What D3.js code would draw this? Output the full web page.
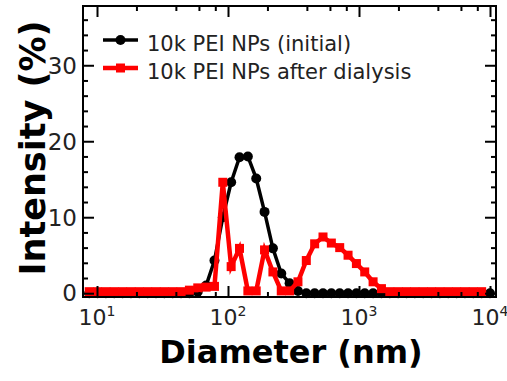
<!DOCTYPE html>
<html>
<head>
<meta charset="utf-8">
<script src="https://cdn.jsdelivr.net/npm/d3@7"></script>
<style>
  html, body { margin: 0; padding: 0; background: #fff; }
  svg { display: block; }
  text { font-family: "DejaVu Sans", Verdana, sans-serif; }
</style>
</head>
<body>
<svg id="chart" width="507" height="381"></svg>
<script>
// Size bins (nm) of the DLS distribution
const diameters = [8.721, 10.1, 11.7, 13.54, 15.69, 18.17, 21.04, 24.36, 28.21, 32.67,
  37.84, 43.82, 50.75, 58.77, 68.06, 78.82, 91.28, 105.7, 122.4, 141.8,
  164.2, 190.1, 220.2, 255.0, 295.3, 342.0, 396.1, 458.7, 531.2, 615.1,
  712.4, 825.0, 955.4, 1106, 1281, 1484, 1718, 1990, 2305, 2669,
  3091, 3580, 4145, 4801, 5560, 6439, 7456, 8635, 10000];

// Intensity (%) of the initial 10k PEI nanoparticles
const initialIntensity = [0, 0, 0, 0, 0, 0, 0, 0, 0, 0,
  0, 0, 0, 0.2, 1.0, 4.3, 10.0, 14.6, 17.9, 18.0,
  15.1, 10.7, 5.9, 2.6, 1.3, 0.3, 0, 0, 0, 0,
  0, 0, 0, 0, 0, 0, 0, 0, 0, 0,
  0, 0, 0, 0, 0, 0, 0, 0, 0];

// Intensity (%) after dialysis (last bin not measured)
const dialysisIntensity = [0.2, 0.2, 0.2, 0.2, 0.2, 0.2, 0.2, 0.2, 0.2, 0.2,
  0.2, 0.2, 0.4, 0.7, 0.8, 0.9, 14.6, 3.5, 5.9, 0.3,
  0.3, 5.7, 2.8, 0.3, 0.3, 1.5, 4.3, 6.5, 7.4, 6.6,
  6.0, 5.0, 3.9, 2.8, 1.5, 0.6, 0.2, 0.2, 0.2, 0.2,
  0.2, 0.2, 0.2, 0.2, 0.2, 0.2, 0.2, 0.2];

const seriesNames = ["10k PEI NPs (initial)", "10k PEI NPs after dialysis"];
const seriesColors = ["#000000", "#ff0000"];

const xMajorTicks = [10, 100, 1000, 10000];
const xMajorExponents = ["1", "2", "3", "4"];
const xMinorTicks = [20, 40, 60, 80, 200, 400, 600, 800, 2000, 4000, 6000, 8000];
const yMajorTicks = [0, 10, 20, 30];
const yMinorTicks = [2, 4, 6, 8, 12, 14, 16, 18, 22, 24, 26, 28, 32, 34, 36];

const xTitle = "Diameter (nm)";
const yTitle = "Intensity (%)";

const svg = d3.select("#chart");
const plot = { left: 83, right: 496, top: 6, bottom: 297 };

// log axis: 131 px per decade, 10^1 at x=97
const x = d3.scaleLog()
  .domain([Math.pow(10, 1 - 14 / 131), Math.pow(10, 4 + 6 / 131)])
  .range([plot.left, plot.right]);
const y = d3.scaleLinear()
  .domain([-0.5, 37.8])
  .range([plot.bottom, plot.top]);

// series
const lineGen = d3.line().x(d => x(d[0])).y(d => y(d[1]));
const initialPts = diameters.map((d, i) => [d, initialIntensity[i]]);
const dialysisPts = dialysisIntensity.map((v, i) => [diameters[i], v]);

const gData = svg.append("g");
gData.append("path").datum(initialPts)
  .attr("d", lineGen).attr("fill", "none")
  .attr("stroke", seriesColors[0]).attr("stroke-width", 3.5).attr("stroke-linejoin", "round");
gData.selectAll("circle.init").data(initialPts).enter().append("circle")
  .attr("class", "init")
  .attr("cx", d => x(d[0])).attr("cy", d => y(d[1])).attr("r", 5)
  .attr("fill", seriesColors[0]);

gData.append("path").datum(dialysisPts)
  .attr("d", lineGen).attr("fill", "none")
  .attr("stroke", seriesColors[1]).attr("stroke-width", 4.5).attr("stroke-linejoin", "miter");
gData.selectAll("rect.dial").data(dialysisPts).enter().append("rect")
  .attr("class", "dial")
  .attr("x", d => x(d[0]) - 4.5).attr("y", d => y(d[1]) - 4.5)
  .attr("width", 9).attr("height", 9)
  .attr("fill", seriesColors[1]);

// inward ticks on all four sides
function styleAxis(g) {
  g.select(".domain").remove();
  g.selectAll(".tick line").attr("stroke", "#000").attr("stroke-width", 2);
  g.selectAll("text").remove();
}
const majorLen = 11, minorLen = 5;
svg.append("g").attr("transform", `translate(0,${plot.bottom})`)
  .call(d3.axisBottom(x).tickValues(xMajorTicks).tickSize(-majorLen).tickFormat("")).call(styleAxis);
svg.append("g").attr("transform", `translate(0,${plot.bottom})`)
  .call(d3.axisBottom(x).tickValues(xMinorTicks).tickSize(-minorLen).tickFormat("")).call(styleAxis);
svg.append("g").attr("transform", `translate(0,${plot.top})`)
  .call(d3.axisTop(x).tickValues(xMajorTicks).tickSize(-majorLen).tickFormat("")).call(styleAxis);
svg.append("g").attr("transform", `translate(0,${plot.top})`)
  .call(d3.axisTop(x).tickValues(xMinorTicks).tickSize(-minorLen).tickFormat("")).call(styleAxis);
svg.append("g").attr("transform", `translate(${plot.left},0)`)
  .call(d3.axisLeft(y).tickValues(yMajorTicks).tickSize(-majorLen).tickFormat("")).call(styleAxis);
svg.append("g").attr("transform", `translate(${plot.left},0)`)
  .call(d3.axisLeft(y).tickValues(yMinorTicks).tickSize(-minorLen).tickFormat("")).call(styleAxis);
svg.append("g").attr("transform", `translate(${plot.right},0)`)
  .call(d3.axisRight(y).tickValues(yMajorTicks).tickSize(-majorLen).tickFormat("")).call(styleAxis);
svg.append("g").attr("transform", `translate(${plot.right},0)`)
  .call(d3.axisRight(y).tickValues(yMinorTicks).tickSize(-minorLen).tickFormat("")).call(styleAxis);

// frame
svg.append("rect")
  .attr("x", plot.left).attr("y", plot.top)
  .attr("width", plot.right - plot.left).attr("height", plot.bottom - plot.top)
  .attr("fill", "none").attr("stroke", "#000").attr("stroke-width", 2);

// tick labels
const labelColor = "#222";
svg.append("g").selectAll("text").data(yMajorTicks).enter().append("text")
  .attr("x", 77).attr("y", d => y(d)).attr("dy", "0.36em")
  .attr("text-anchor", "end").attr("font-size", 23).attr("fill", labelColor)
  .text(d => d);

const xl = svg.append("g").selectAll("text").data(xMajorTicks).enter().append("text")
  .attr("x", d => x(d)).attr("y", 325)
  .attr("text-anchor", "middle").attr("font-size", 22).attr("fill", labelColor);
xl.append("tspan").text("10");
xl.append("tspan").attr("dy", -9).attr("font-size", 14).text((d, i) => xMajorExponents[i]);

// axis titles
svg.append("text").attr("x", 291).attr("y", 363)
  .attr("text-anchor", "middle").attr("font-size", 32).attr("font-weight", "bold")
  .attr("fill", "#000").text(xTitle);
svg.append("text").attr("transform", "translate(45,148) rotate(-90)")
  .attr("text-anchor", "middle").attr("font-size", 35).attr("font-weight", "bold")
  .attr("fill", "#000").text(yTitle);

// legend
const legend = svg.append("g");
const legendRows = [40, 68];
seriesNames.forEach((name, i) => {
  const ly = legendRows[i];
  legend.append("line").attr("x1", 103).attr("x2", 138).attr("y1", ly).attr("y2", ly)
    .attr("stroke", seriesColors[i]).attr("stroke-width", i === 0 ? 3.5 : 4.5);
  if (i === 0) {
    legend.append("circle").attr("cx", 120.5).attr("cy", ly).attr("r", 5).attr("fill", seriesColors[i]);
  } else {
    legend.append("rect").attr("x", 116).attr("y", ly - 4.5).attr("width", 9).attr("height", 9)
      .attr("fill", seriesColors[i]);
  }
  legend.append("text").attr("x", 147).attr("y", ly + 11)
    .attr("font-size", 21).attr("fill", labelColor).text(name);
});
</script>
</body>
</html>
